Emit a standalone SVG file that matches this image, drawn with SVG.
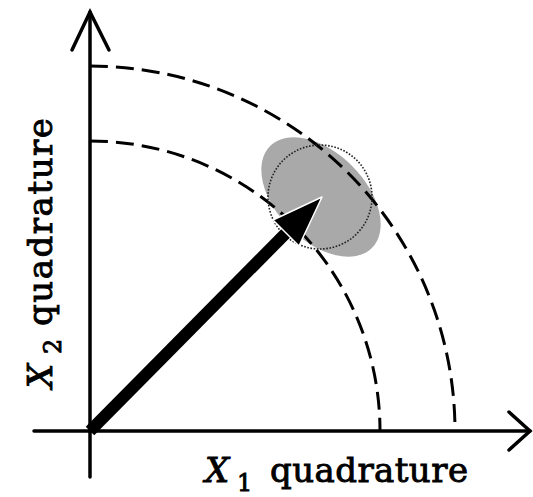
<svg xmlns="http://www.w3.org/2000/svg" width="533" height="497" viewBox="0 0 533 497">
<style>
.ax{stroke:#000;stroke-width:3.5;fill:none;stroke-linecap:round}
.arc{stroke:#000;stroke-width:3;fill:none;stroke-dasharray:18 8}
.lbl{font-family:"DejaVu Serif","Liberation Serif",serif;font-size:34px;fill:#000;stroke:#000;stroke-width:0.9}
</style>
<rect width="533" height="497" fill="#fff"/>
<g id="blob">
<ellipse cx="321" cy="197" rx="72" ry="44" transform="rotate(45 321 197)" fill="#a9a9a9"/>
</g>
<g id="connectors">
<path id="outer-arc" class="arc" d="M90 66 A365 365 0 0 1 455 431"/>
<path id="inner-arc" class="arc" d="M90 141 A290 290 0 0 1 380 431"/>
<circle id="dotted-circle" cx="320" cy="197" r="52" fill="none" stroke="#222" stroke-width="1.6" stroke-dasharray="1.6 1.6"/>
<g id="axes">
<line class="ax" x1="34" y1="431" x2="530" y2="431"/>
<polyline class="ax" points="509,412 530,431 509,450"/>
<line class="ax" x1="90" y1="477" x2="90" y2="12"/>
<polyline class="ax" points="72,50 90,12 109,50"/>
</g>
<g id="vector">
<line x1="90" y1="431" x2="290" y2="229" stroke="#000" stroke-width="12"/>
<polygon points="322,197 273,220 299,246" fill="#000" stroke="#fff" stroke-width="1.5" stroke-linejoin="round"/>
</g>
</g>
<g id="x1-label">
<text class="lbl" y="482"><tspan x="205" font-style="italic">X</tspan><tspan x="237" dy="9" font-size="24">1</tspan><tspan x="270" dy="-9" textLength="198">quadrature</tspan></text>
</g>
<g id="x2-label">
<text class="lbl" transform="translate(52 388) rotate(-90)"><tspan x="0" font-style="italic">X</tspan><tspan x="34" dy="9" font-size="24">2</tspan><tspan x="62" dy="-9" textLength="208">quadrature</tspan></text>
</g>
</svg>
